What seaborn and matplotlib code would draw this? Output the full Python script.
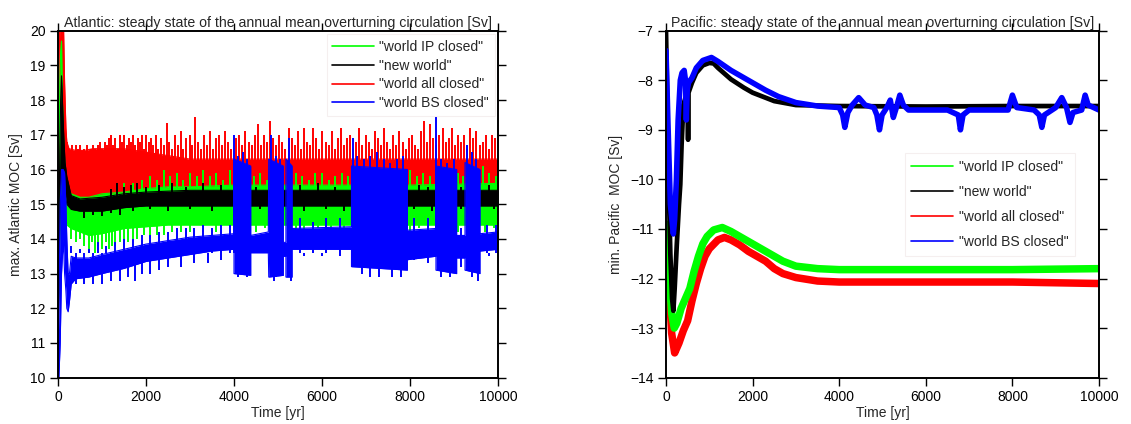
import numpy as np
import pandas as pd
import matplotlib
matplotlib.use("Agg")
import matplotlib.pyplot as plt
from matplotlib.lines import Line2D
import seaborn as sns

sns.set_theme(style="white")
plt.rcParams['font.family'] = ['Liberation Sans', 'DejaVu Sans']

series_labels = ['"world IP closed"', '"new world"', '"world all closed"', '"world BS closed"']
series_colors = ['#00ff00', '#000000', '#ff0000', '#0000ff']
x_ticks = [0, 2000, 4000, 6000, 8000, 10000]
atl_y_ticks = [10, 11, 12, 13, 14, 15, 16, 17, 18, 19, 20]
pac_y_ticks = [-14, -13, -12, -11, -10, -9, -8, -7]

# ---------------- Atlantic (max MOC): noise envelopes + spikes ----------------
atl_green_t = [0, 20, 40, 60, 80, 100, 130, 160, 200, 300, 500, 700, 1000, 1500, 2000, 2500, 3000, 4000, 6000, 8000, 10000]
atl_green_lo = [11.8, 12.5, 14.0, 15.0, 15.2, 15.0, 14.8, 14.6, 14.4, 14.3, 14.2, 14.1, 14.15, 14.3, 14.35, 14.4, 14.4, 14.4, 14.4, 14.4, 14.4]
atl_green_hi = [12.5, 15.0, 18.5, 19.4, 19.7, 18.0, 16.8, 16.0, 15.5, 15.3, 15.2, 15.2, 15.3, 15.35, 15.45, 15.5, 15.5, 15.55, 15.55, 15.55, 15.6]
atl_green_dip_t = [300, 400, 500, 600, 700, 780, 850, 920, 1000, 1080, 1150, 1230, 1300, 1400, 1500, 1600, 1700, 1800,
                   1950, 2100, 2250, 2400, 2600, 2800, 3000, 3300, 3600, 3900, 4500, 4700, 5400, 5600, 5900, 6200,
                   6500, 8000, 8200, 8400, 9100, 9700, 9900]
atl_green_dip_v = [14.0, 13.9, 14.0, 13.8, 13.6, 13.9, 13.6, 13.8, 13.7, 13.9, 13.7, 13.8, 13.8, 13.9, 14.0, 13.9, 14.0, 14.0,
                   14.1, 14.0, 14.1, 14.1, 14.2, 14.2, 14.2, 14.2, 14.2, 14.3, 14.2, 14.3, 13.9, 14.2, 14.3, 14.2,
                   14.3, 14.2, 14.3, 14.2, 14.2, 14.2, 14.3]
atl_green_spike_t = [1500, 1700, 1900, 2100, 2250, 2400, 2550, 2700, 2850, 3000, 3150, 3300, 3450, 3600, 3750, 3900,
                     4450, 4600, 4750, 5400, 5550, 5700, 5850, 6000, 6150, 6300, 6450, 6600, 8000, 8150, 8300, 8450,
                     9100, 9200, 9650, 9800, 9950]
atl_green_spike_v = [15.6, 15.6, 15.7, 15.8, 15.7, 16.0, 15.8, 15.9, 15.7, 15.9, 15.8, 16.0, 15.8, 15.9, 15.7, 16.0,
                     15.8, 15.9, 15.7, 15.9, 15.8, 15.7, 15.9, 15.9, 15.7, 15.8, 15.9, 15.8, 16.0, 15.8, 15.9, 15.8,
                     15.9, 15.8, 16.1, 15.9, 15.8]

atl_black_t = [0, 20, 40, 60, 80, 100, 130, 160, 200, 300, 500, 1000, 1500, 2000, 3000, 6000, 10000]
atl_black_lo = [11.0, 12.5, 14.5, 15.5, 16.0, 16.0, 15.6, 15.3, 15.0, 14.85, 14.8, 14.8, 14.9, 14.95, 14.95, 14.95, 14.95]
atl_black_hi = [12.0, 14.0, 16.5, 18.0, 18.7, 18.0, 17.0, 16.2, 15.8, 15.25, 15.15, 15.2, 15.3, 15.35, 15.4, 15.4, 15.4]
atl_black_spike_t = [1200, 1350, 1500, 1650, 1800, 2000, 2300, 2600, 2900, 3300, 3700, 4500, 5500, 5900, 6300, 8200, 8400, 9150, 9800]
atl_black_spike_v = [15.45, 15.6, 15.5, 15.55, 15.6, 15.5, 15.55, 15.6, 15.5, 15.6, 15.55, 15.5, 15.55, 15.6, 15.5, 15.55, 15.5, 15.5, 15.55]
atl_black_dip_t = [600, 800, 1000, 1200, 1400, 1700, 2100, 2500, 3000, 3500, 4600, 5600, 6100, 6500, 8100, 8500, 9150, 9900]
atl_black_dip_v = [14.6, 14.7, 14.65, 14.75, 14.7, 14.8, 14.85, 14.8, 14.85, 14.8, 14.85, 14.8, 14.85, 14.8, 14.85, 14.8, 14.85, 14.85]

atl_red_t = [0, 20, 40, 60, 80, 100, 120, 150, 180, 200, 250, 400, 600, 800, 1000, 1200, 1500, 2000, 2500, 3000, 6000, 10000]
atl_red_lo = [11.3, 13.0, 15.0, 17.0, 17.5, 17.0, 16.0, 15.5, 15.2, 15.0, 15.0, 15.0, 14.8, 14.9, 14.9, 15.0, 15.2, 15.4, 15.5, 15.5, 15.5, 15.5]
atl_red_hi = [11.8, 18.0, 20.5, 20.5, 20.5, 20.5, 20.5, 18.5, 17.2, 16.8, 16.6, 16.55, 16.55, 16.6, 16.6, 16.6, 16.6, 16.5, 16.4, 16.3, 16.3, 16.3]
atl_red_spike_t = [210, 260, 310, 350, 400, 450, 500, 540, 600, 650,
                   690, 740, 800, 850, 900, 950, 1000, 1060, 1110, 1160,
                   1210, 1260, 1300, 1360, 1410, 1460, 1500, 1560, 1610, 1660,
                   1700, 1760, 1810, 1860, 1900, 1960, 2010, 2060, 2110, 2160,
                   2220, 2280, 2340, 2400, 2470, 2530, 2590, 2650, 2720, 2790,
                   2850, 2920, 2990, 3050, 3110, 3180, 3250, 3320, 3390, 3450,
                   3520, 3590, 3650, 3720, 3790, 3860, 3930, 4050, 4120, 4190,
                   4260, 4330, 4400, 4470, 4540, 4610, 4680, 4750, 4820, 4890,
                   4960, 5030, 5100, 5170, 5240, 5310, 5380, 5450, 5520, 5590,
                   5660, 5730, 5800, 5870, 5940, 6010, 6080, 6150, 6220, 6290,
                   6360, 6430, 6500, 6570, 6640, 6710, 6780, 6850, 6920, 6990,
                   7060, 7130, 7200, 7270, 7340, 7410, 7480, 7550, 7620, 7690,
                   7760, 7830, 7900, 7970, 8040, 8110, 8180, 8250, 8320, 8390,
                   8460, 8530, 8600, 8670, 8740, 8810, 8880, 8950, 9020, 9090,
                   9160, 9230, 9300, 9370, 9440, 9510, 9580, 9650, 9720, 9790,
                   9860, 9930]
atl_red_spike_v = [16.8, 16.6, 16.7, 16.5, 16.7, 16.6, 16.7, 16.5, 16.6, 16.7,
                   16.5, 16.6, 16.7, 16.6, 16.7, 16.8, 16.6, 16.8, 16.7, 16.9,
                   17.0, 16.7, 16.9, 16.6, 17.0, 16.8, 17.0, 16.7, 16.9, 16.8,
                   17.0, 16.7, 16.9, 16.8, 17.0, 16.6, 17.0, 16.8, 16.9, 16.7,
                   17.0, 16.6, 16.9, 16.7, 17.35, 16.8, 16.6, 17.0, 16.7, 17.1,
                   16.6, 16.9, 17.0, 16.7, 17.5, 16.8, 16.6, 17.0, 16.7, 17.1,
                   16.6, 16.9, 17.0, 16.7, 17.1, 16.8, 16.6, 16.9, 17.0, 16.7,
                   17.1, 16.8, 16.7, 17.0, 17.3, 16.7, 17.0, 16.8, 17.4, 16.9,
                   16.7, 17.0, 16.8, 16.6, 17.2, 16.9, 16.7, 17.1, 16.6, 17.2,
                   16.8, 16.7, 17.2, 16.9, 16.6, 17.1, 16.8, 16.7, 17.1, 16.6,
                   16.9, 17.2, 16.7, 16.9, 17.0, 16.6, 16.8, 17.2, 16.7, 17.0,
                   16.8, 16.6, 17.1, 16.9, 16.7, 17.2, 16.8, 16.6, 17.0, 16.7,
                   17.1, 16.8, 16.6, 16.9, 17.0, 16.7, 16.6, 17.1, 17.4, 16.8,
                   17.3, 16.9, 16.7, 17.0, 17.2, 16.8, 16.9, 17.2, 16.7, 17.0,
                   16.8, 17.0, 16.6, 17.2, 16.9, 17.1, 16.7, 16.8, 17.0, 16.6,
                   17.0, 16.9]

atl_blue_t = [0, 20, 50, 80, 120, 150, 180, 200, 230, 260, 300, 400, 700, 1000, 1500, 2000, 2500, 3000, 3500, 4000,
              4000, 4380, 4380, 4780, 4790, 5120, 5120, 5180, 5180, 5320, 5320, 6670, 6670, 7940, 7940, 8590,
              8590, 9060, 9060, 9250, 9250, 9590, 9590, 10000]
atl_blue_lo = [10.0, 10.0, 11.0, 13.0, 14.0, 13.0, 12.5, 12.0, 11.9, 12.2, 12.7, 12.85, 12.9, 13.0, 13.15, 13.35, 13.45, 13.55, 13.65, 13.7,
               13.0, 12.95, 13.6, 13.6, 12.9, 12.95, 13.5, 13.5, 12.9, 12.9, 13.7, 13.7, 13.2, 13.1, 13.4, 13.5,
               13.1, 13.0, 13.45, 13.45, 13.1, 13.0, 13.65, 13.7]
atl_blue_hi = [10.5, 12.0, 15.0, 16.0, 16.0, 15.9, 15.0, 14.0, 13.0, 13.0, 13.5, 13.45, 13.45, 13.55, 13.7, 13.85, 13.95, 14.05, 14.1, 14.15,
               16.3, 16.1, 14.1, 14.2, 16.3, 16.1, 13.9, 13.9, 16.3, 16.1, 14.3, 14.35, 16.1, 16.0, 14.25, 14.3,
               16.1, 16.0, 14.1, 14.1, 16.2, 16.0, 14.15, 14.2]
atl_blue_spike_t = [300, 500, 700, 900, 1100, 1300, 1500, 1700, 1900, 2100, 2300, 2500, 2700, 2900, 3100, 3300, 3500,
                    3700, 3900, 4010, 4100, 4200, 4300, 4850, 4950, 5050, 5250, 5500, 5800, 6100, 6400, 6700, 6800,
                    6950, 7100, 7250, 7400, 7550, 7700, 7850, 8100, 8400, 8600, 8700, 8850, 9000, 9150, 9300, 9400,
                    9500, 9750, 9950]
atl_blue_spike_v = [13.8, 13.7, 13.7, 13.9, 13.8, 13.9, 14.0, 14.0, 14.1, 14.1, 14.2, 14.2, 14.3, 14.3, 14.3, 14.4, 14.3,
                    14.4, 14.4, 17.0, 16.4, 16.5, 16.3, 17.0, 16.4, 16.3, 16.9, 14.6, 14.5, 14.6, 14.6, 16.9, 16.4,
                    16.3, 16.4, 16.5, 16.3, 16.2, 16.3, 16.4, 14.6, 14.6, 17.5, 16.3, 16.2, 16.3, 14.3, 16.7, 16.5,
                    16.3, 14.4, 14.4]
atl_blue_dip_t = [400, 600, 800, 1000, 1200, 1400, 1600, 1750, 1900, 2100, 2300, 2500, 2800, 3100, 3400, 3700, 4100,
                  4300, 4900, 4950, 5300, 5600, 6000, 6400, 6900, 7100, 7300, 7600, 7800, 8100, 8400, 8700, 8900,
                  9150, 9400, 9550, 9800]
atl_blue_dip_v = [12.7, 12.7, 12.7, 12.7, 12.8, 12.8, 12.9, 12.8, 13.0, 13.0, 13.1, 13.2, 13.2, 13.3, 13.3, 13.4, 12.9,
                  12.9, 12.8, 12.9, 12.8, 13.5, 13.5, 13.5, 13.0, 12.9, 12.9, 12.9, 12.9, 13.4, 13.3, 12.9, 12.9,
                  13.2, 12.9, 12.8, 13.5]

# ---------------- Pacific (min MOC) ----------------
pac_green_t = [0, 40, 80, 130, 190, 250, 350, 450, 550, 650, 750, 850, 950, 1100, 1300, 1500, 1700, 1900, 2100, 2300,
               2500, 2700, 3000, 3500, 4000, 6000, 8000, 10000]
pac_green_v = [-10.9, -11.4, -12.0, -12.7, -13.0, -12.9, -12.6, -12.4, -12.2, -11.85, -11.55, -11.3, -11.15, -11.02, -10.97, -11.05,
               -11.15, -11.25, -11.35, -11.45, -11.55, -11.65, -11.75, -11.8, -11.82, -11.82, -11.82, -11.8]
pac_black_t = [0, 30, 60, 100, 140, 170, 200, 250, 300, 330, 360, 400, 450, 500, 510, 520, 600, 700, 850, 1000, 1100,
               1200, 1500, 1800, 2000, 2500, 3000, 4000, 6000, 8000, 10000]
pac_black_v = [-7.0, -8.5, -10.0, -11.5, -12.4, -12.65, -12.2, -11.3, -10.5, -10.1, -9.3, -8.5, -8.35, -8.3, -9.2, -8.25,
               -8.05, -7.85, -7.7, -7.65, -7.66, -7.75, -7.98, -8.15, -8.25, -8.42, -8.5, -8.52, -8.53, -8.52, -8.52]
pac_red_t = [0, 40, 80, 130, 200, 300, 400, 500, 600, 700, 800, 900, 1000, 1200, 1350, 1500, 1700, 1900, 2100, 2300,
             2500, 2700, 3000, 3500, 4000, 6000, 8000, 10000]
pac_red_v = [-11.0, -11.6, -12.3, -13.1, -13.5, -13.3, -13.05, -12.85, -12.45, -12.1, -11.8, -11.55, -11.4, -11.22, -11.17,
             -11.22, -11.32, -11.45, -11.55, -11.65, -11.8, -11.9, -11.98, -12.05, -12.07, -12.07, -12.07, -12.1]
pac_blue_t = [0, 50, 100, 170, 200, 240, 280, 330, 370, 420, 450, 470, 490, 520, 600, 700, 850, 1050, 1200, 1500, 1800,
              2000, 2300, 2600, 3000, 3500, 4000, 4080, 4130, 4200, 4300, 4450, 4600, 4800, 4870, 4930, 4990, 5100,
              5180, 5250, 5320, 5400, 5480, 5600, 6000, 6500, 6750, 6800, 6860, 7000, 7500, 7900, 8000, 8100, 8500,
              8620, 8680, 8740, 9000, 9140, 9250, 9330, 9400, 9600, 9680, 9750, 10000]
pac_blue_v = [-7.4, -9.0, -10.5, -11.1, -10.8, -10.0, -8.8, -8.0, -7.85, -7.8, -8.0, -8.8, -8.2, -8.05, -7.95, -7.75, -7.6,
              -7.54, -7.62, -7.8, -7.95, -8.05, -8.2, -8.33, -8.45, -8.52, -8.55, -8.7, -8.95, -8.65, -8.5, -8.35, -8.5,
              -8.55, -8.7, -9.0, -8.7, -8.55, -8.4, -8.75, -8.55, -8.3, -8.5, -8.6, -8.6, -8.6, -8.7, -9.0, -8.7, -8.6,
              -8.6, -8.6, -8.3, -8.55, -8.6, -8.7, -8.95, -8.7, -8.55, -8.35, -8.55, -8.85, -8.65, -8.6, -8.3, -8.5, -8.6]

W, H = 1131, 424
fig = plt.figure(figsize=(W / 100, H / 100), dpi=100)
ax1 = fig.add_axes([58 / W, 1 - 377.7 / H, 440 / W, 347 / H])
ax2 = fig.add_axes([666 / W, 1 - 377.7 / H, 433 / W, 347 / H])

# Atlantic bands (draw order: red, green, black, blue)
atl_bands = [
    (atl_red_t, atl_red_lo, atl_red_hi, series_colors[2], 2),
    (atl_green_t, atl_green_lo, atl_green_hi, series_colors[0], 3),
    (atl_black_t, atl_black_lo, atl_black_hi, series_colors[1], 4),
    (atl_blue_t, atl_blue_lo, atl_blue_hi, series_colors[3], 5),
]
for t, lo, hi, c, z in atl_bands:
    ax1.fill_between(t, lo, hi, color=c, lw=0, zorder=z)
    df = pd.DataFrame({"t": t + t, "v": lo + hi, "edge": ["lo"] * len(t) + ["hi"] * len(t)})
    sns.lineplot(data=df, x="t", y="v", units="edge", estimator=None, color=c, lw=0.8,
                 ax=ax1, zorder=z, legend=False, sort=False)

slw = 1.4
ax1.vlines(atl_red_spike_t, 15.8, atl_red_spike_v, color=series_colors[2], lw=slw, zorder=2)
ax1.vlines(atl_green_dip_t, atl_green_dip_v, 14.6, color=series_colors[0], lw=slw, zorder=3)
ax1.vlines(atl_green_spike_t, 15.3, atl_green_spike_v, color=series_colors[0], lw=slw, zorder=3)
ax1.vlines(atl_black_spike_t, 15.1, atl_black_spike_v, color=series_colors[1], lw=slw, zorder=4)
ax1.vlines(atl_black_dip_t, atl_black_dip_v, 15.1, color=series_colors[1], lw=slw, zorder=4)
ax1.vlines(atl_blue_spike_t, 13.6, atl_blue_spike_v, color=series_colors[3], lw=slw, zorder=5)
ax1.vlines(atl_blue_dip_t, atl_blue_dip_v, 13.6, color=series_colors[3], lw=slw, zorder=5)

# Pacific lines
pac_sets = [
    (pac_red_t, pac_red_v, series_colors[2], 5.4, 2),
    (pac_green_t, pac_green_v, series_colors[0], 5.4, 3),
    (pac_black_t, pac_black_v, series_colors[1], 3.4, 4),
    (pac_blue_t, pac_blue_v, series_colors[3], 4.0, 5),
]
for t, v, c, lw, z in pac_sets:
    df = pd.DataFrame({"t": t, "v": v})
    sns.lineplot(data=df, x="t", y="v", estimator=None, color=c, lw=lw, ax=ax2, zorder=z,
                 legend=False, sort=False, solid_joinstyle="round")

handles = [Line2D([0], [0], color=c, lw=1.2) for c in series_colors]

for ax, yt, ylim, ylabel, title in [
    (ax1, atl_y_ticks, (10, 20), "max. Atlantic MOC [Sv]",
     "Atlantic: steady state of the annual mean overturning circulation [Sv]"),
    (ax2, pac_y_ticks, (-14, -7), "min. Pacific  MOC [Sv]",
     "Pacific: steady state of the annual mean overturning circulation [Sv]"),
]:
    ax.set_xlim(0, 10000)
    ax.set_ylim(*ylim)
    ax.set_xticks(x_ticks)
    ax.set_yticks(yt)
    ax.set_xlabel("Time [yr]", fontsize=10, labelpad=1)
    ax.set_ylabel(ylabel, fontsize=10, labelpad=5)
    ax.set_title(title, fontsize=10.2, pad=3)
    ax.tick_params(direction="out", length=6, width=1, top=True, right=True,
                   bottom=True, left=True, labelsize=10, pad=3, color="black", labelcolor="black")
    for s in ax.spines.values():
        s.set_color("black")
        s.set_linewidth(1.4)
        s.set_zorder(10)
    ax.grid(False)

leg1 = ax1.legend(handles, series_labels, loc="upper right", fontsize=10, frameon=True,
                  fancybox=False, edgecolor="#f3ecec", borderaxespad=0.25, handlelength=3.0,
                  labelspacing=0.35, handletextpad=0.4, borderpad=0.4)
leg1.get_frame().set_linewidth(0.8)
leg2 = ax2.legend(handles, series_labels, loc="center", bbox_to_anchor=(0.748, 0.50), fontsize=10,
                  frameon=True, fancybox=False, edgecolor="#f3ecec", handlelength=3.0,
                  labelspacing=0.8, handletextpad=0.4, borderpad=0.5)
leg2.get_frame().set_linewidth(0.8)

fig.savefig("out.png", dpi=100)
